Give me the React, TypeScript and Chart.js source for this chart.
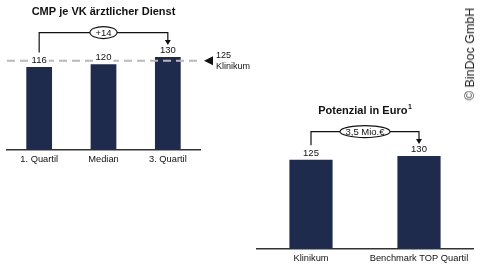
import React, { useEffect, useRef } from "react";
import { Chart, registerables } from "chart.js";

Chart.register(...registerables);

// ---------- data ----------
const leftTitle = "CMP je VK ärztlicher Dienst";
const leftCategories = ["1. Quartil", "Median", "3. Quartil"];
const leftValues = [116, 120, 130];
const leftDelta = "+14";
const leftReference = 125;
const leftReferenceLabels = ["125", "Klinikum"];

const rightTitle = "Potenzial in Euro";
const rightTitleSup = "1";
const rightCategories = ["Klinikum", "Benchmark TOP Quartil"];
const rightValues = [125, 130];
const rightDelta = "3,5 Mio.€";

const copyright = "© BinDoc GmbH";

// ---------- style ----------
const FONT = '"Liberation Sans", Arial, Helvetica, sans-serif';
const BAR = "#1e2b4d";
const INK = "#111111";

type PanelProps = {
  title: string;
  sup?: string;
  categories: string[];
  values: number[];
  delta: string;
  reference?: number;
  referenceLabels?: string[];
  left: number;
  top: number;
  width: number;
  height: number;
  padLeft: number;
  padRight: number;
};

function Panel(p: PanelProps) {
  const ref = useRef<HTMLCanvasElement | null>(null);

  useEffect(() => {
    if (!ref.current) return;
    const annot = {
      id: "annot",
      afterDatasetsDraw(chart: any) {
        const ctx = chart.ctx as CanvasRenderingContext2D;
        const area = chart.chartArea;
        const meta = chart.getDatasetMeta(0);
        const yScale = chart.scales.y;
        ctx.save();

        // title
        ctx.fillStyle = INK;
        ctx.textBaseline = "middle";
        ctx.font = `bold 11px ${FONT}`;
        const cx = (area.left + area.right) / 2;
        const tw = ctx.measureText(p.title).width;
        let sw = 0;
        if (p.sup) {
          ctx.font = `bold 7px ${FONT}`;
          sw = ctx.measureText(p.sup).width + 0.5;
        }
        const tx0 = cx - (tw + sw) / 2;
        ctx.font = `bold 11px ${FONT}`;
        ctx.textAlign = "left";
        ctx.fillText(p.title, tx0, 11.5);
        if (p.sup) {
          ctx.font = `bold 7px ${FONT}`;
          ctx.fillText(p.sup, tx0 + tw + 0.5, 8.5);
        }

        // reference line
        if (p.reference != null) {
          const y = yScale.getPixelForValue(p.reference);
          ctx.setLineDash([8, 5]);
          ctx.strokeStyle = "#b9b9b9";
          ctx.lineWidth = 2;
          ctx.beginPath();
          ctx.moveTo(area.left, y);
          ctx.lineTo(area.right, y);
          ctx.stroke();
          ctx.setLineDash([]);
          const tx = area.right + 4;
          ctx.fillStyle = INK;
          ctx.beginPath();
          ctx.moveTo(tx, y);
          ctx.lineTo(tx + 9, y - 4.5);
          ctx.lineTo(tx + 9, y + 4.5);
          ctx.closePath();
          ctx.fill();
          if (p.referenceLabels) {
            ctx.font = `9px ${FONT}`;
            ctx.textAlign = "left";
            ctx.textBaseline = "middle";
            ctx.fillText(p.referenceLabels[0], tx + 12, y - 5.5);
            ctx.fillText(p.referenceLabels[1], tx + 12, y + 5.5);
          }
        }

        // value labels
        ctx.font = `9.5px ${FONT}`;
        ctx.textAlign = "center";
        ctx.textBaseline = "middle";
        const centers: number[] = [];
        meta.data.forEach((bar: any, i: number) => {
          const cy = bar.y - 6.5;
          centers.push(cy);
          const text = String(p.values[i]);
          const w = ctx.measureText(text).width;
          ctx.fillStyle = "#ffffff";
          ctx.fillRect(bar.x - w / 2 - 2, cy - 5, w + 4, 10);
          ctx.fillStyle = INK;
          ctx.fillText(text, bar.x, cy);
        });

        // bracket
        const first = meta.data[0];
        const last = meta.data[meta.data.length - 1];
        const c1 = centers[0];
        const c2 = centers[centers.length - 1];
        const by = Math.min(c1, c2) - 18;
        ctx.strokeStyle = INK;
        ctx.lineWidth = 1.2;
        ctx.beginPath();
        ctx.moveTo(first.x, c1 - 8);
        ctx.lineTo(first.x, by);
        ctx.lineTo(last.x, by);
        ctx.lineTo(last.x, c2 - 10);
        ctx.stroke();
        ctx.fillStyle = INK;
        ctx.beginPath();
        ctx.moveTo(last.x - 3, c2 - 10.5);
        ctx.lineTo(last.x + 3, c2 - 10.5);
        ctx.lineTo(last.x, c2 - 5.5);
        ctx.closePath();
        ctx.fill();

        const mx = (first.x + last.x) / 2;
        ctx.font = `9.5px ${FONT}`;
        const dw = ctx.measureText(p.delta).width;
        ctx.beginPath();
        ctx.ellipse(mx, by, dw / 2 + 5.5, 6, 0, 0, Math.PI * 2);
        ctx.fillStyle = "#ffffff";
        ctx.fill();
        ctx.lineWidth = 1.1;
        ctx.stroke();
        ctx.fillStyle = INK;
        ctx.textAlign = "center";
        ctx.textBaseline = "middle";
        ctx.fillText(p.delta, mx, by + 0.5);

        ctx.restore();
      },
    };

    const chart = new Chart(ref.current, {
      type: "bar",
      data: {
        labels: p.categories,
        datasets: [
          {
            data: p.values,
            backgroundColor: BAR,
            borderWidth: 0,
            barPercentage: 0.4,
            categoryPercentage: 1,
          },
        ],
      },
      options: {
        responsive: false,
        animation: false,
        devicePixelRatio: 1,
        layout: {
          padding: { left: p.padLeft, right: p.padRight, top: 20, bottom: 1 },
        },
        plugins: {
          legend: { display: false },
          tooltip: { enabled: false },
          title: { display: false },
        },
        scales: {
          x: {
            grid: { display: false, drawTicks: false },
            border: { display: true, color: "#333333", width: 1.5 },
            ticks: {
              font: { size: 9.3, family: FONT },
              color: INK,
              padding: 4,
              maxRotation: 0,
              autoSkip: false,
            },
          },
          y: { display: false, min: 0, max: 182 },
        },
      },
      plugins: [annot],
    } as any);
    return () => chart.destroy();
  }, []);

  return (
    <canvas
      ref={ref}
      width={p.width}
      height={p.height}
      style={{
        position: "absolute",
        left: p.left,
        top: p.top,
        width: p.width,
        height: p.height,
        display: "block",
      }}
    />
  );
}

export default function App() {
  return (
    <div
      style={{
        position: "fixed",
        left: 0,
        top: 0,
        width: 480,
        height: 270,
        background: "#ffffff",
        overflow: "hidden",
        fontFamily: FONT,
      }}
    >
      <Panel
        title={leftTitle}
        categories={leftCategories}
        values={leftValues}
        delta={leftDelta}
        reference={leftReference}
        referenceLabels={leftReferenceLabels}
        left={0}
        top={0}
        width={260}
        height={170}
        padLeft={7}
        padRight={60}
      />
      <Panel
        title={rightTitle}
        sup={rightTitleSup}
        categories={rightCategories}
        values={rightValues}
        delta={rightDelta}
        left={240}
        top={99}
        width={240}
        height={170}
        padLeft={17}
        padRight={7}
      />
      <div
        style={{
          position: "absolute",
          left: 470,
          top: 54,
          transform: "translate(-50%, -50%) rotate(-90deg)",
          whiteSpace: "nowrap",
          fontSize: 12.5,
          lineHeight: "14px",
          color: "#222222",
          fontFamily: FONT,
        }}
      >
        {copyright}
      </div>
    </div>
  );
}
